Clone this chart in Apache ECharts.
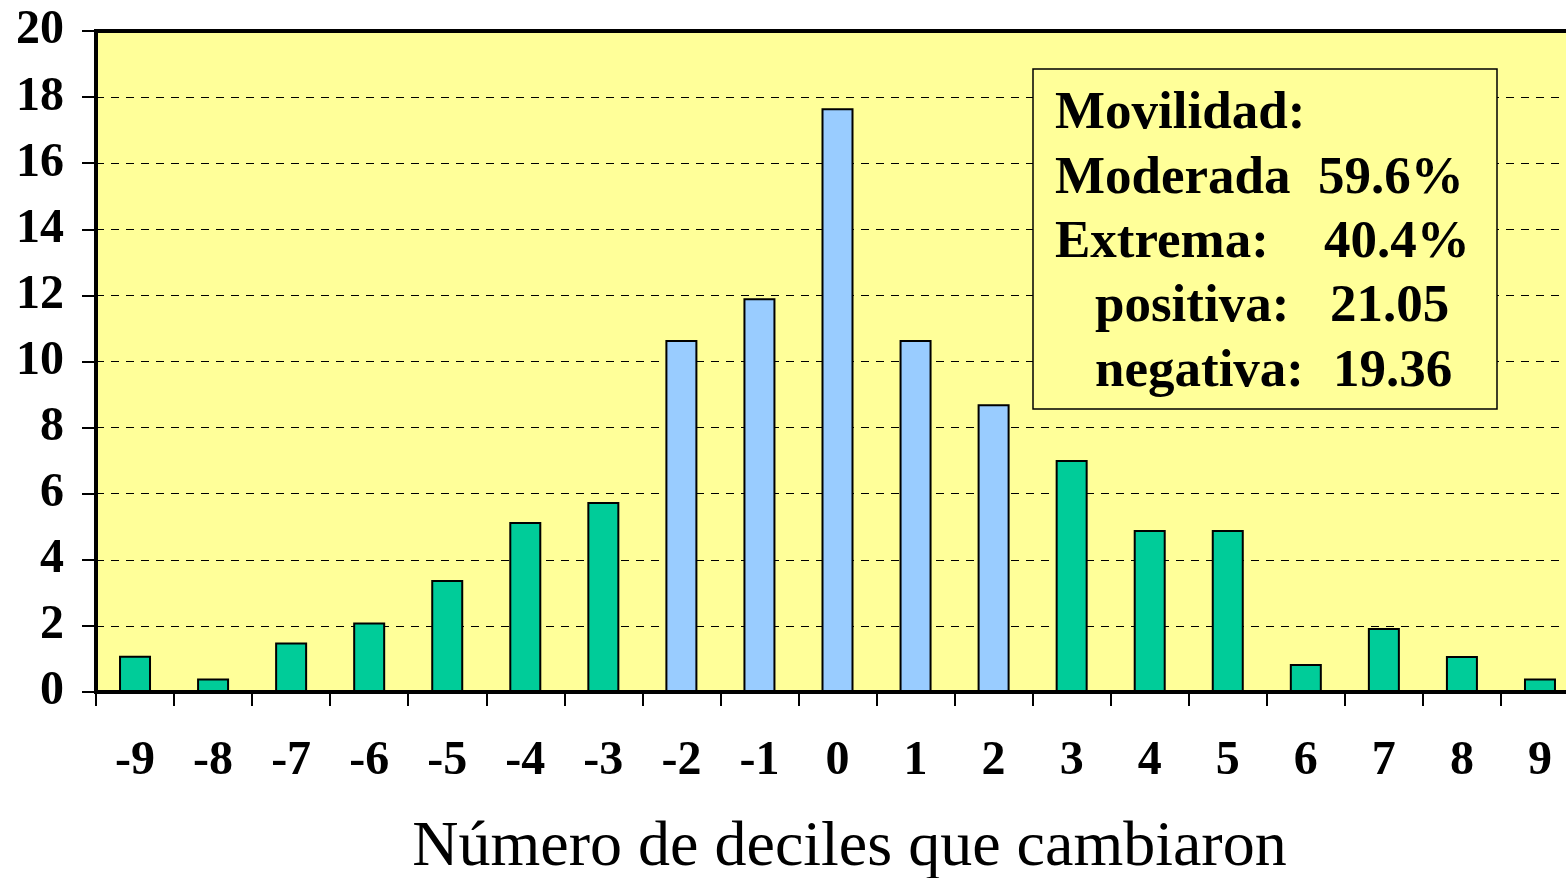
<!DOCTYPE html>
<html>
<head>
<meta charset="utf-8">
<script src="https://cdn.jsdelivr.net/npm/echarts@6/dist/echarts.min.js"></script>
<style>
  html, body { margin: 0; padding: 0; background: #fff; }
  #chartDeciles { width: 1566px; height: 878px; }
</style>
</head>
<body>
<div id="chartDeciles"></div>
<script>
var categories = ["-9", "-8", "-7", "-6", "-5", "-4", "-3", "-2", "-1", "0", "1", "2", "3", "4", "5", "6", "7", "8", "9"];
var values = [1.1, 0.41, 1.5, 2.1, 3.39, 5.14, 5.75, 10.65, 11.91, 17.66, 10.65, 8.71, 7.02, 4.9, 4.9, 0.85, 1.94, 1.09, 0.41];
var yTicks = { min: 0, max: 20, interval: 2 };
var boxLines = [
  ["Movilidad:", ""],
  ["Moderada", "59.6%"],
  ["Extrema:", "40.4%"],
  ["positiva:", "21.05"],
  ["negativa:", "19.36"]
];

var FONT = "'Liberation Serif', 'Times New Roman', serif";

function InitDeciles() {
  var myChart = echarts.init(document.getElementById("chartDeciles"));

  // moderada (|k| <= 2) en azul, extrema en verde
  var barData = values.map(function (v, i) {
    var moderate = Math.abs(Number(categories[i])) <= 2;
    return {
      value: v,
      itemStyle: { color: moderate ? "#99CCFF" : "#00CC99" },
    };
  });

  // cuadro de texto
  var boxX = [[1055, 1318], [1055, 1318], [1055, 1324], [1095, 1330], [1095, 1333]];
  var boxY = [114, 179, 243, 307, 372];
  var boxChildren = [
    {
      type: "rect",
      shape: { x: 1033, y: 69, width: 464, height: 340 },
      style: { fill: "#FFFF99", stroke: "#000", lineWidth: 1.5 },
      z: 10,
    },
  ];
  boxLines.forEach(function (line, i) {
    boxChildren.push({
      type: "text",
      x: boxX[i][0],
      y: boxY[i],
      style: { text: line[0], font: "bold 53px " + FONT, fill: "#000", textVerticalAlign: "middle" },
      z: 11,
    });
    if (line[1]) {
      boxChildren.push({
        type: "text",
        x: boxX[i][1],
        y: boxY[i],
        style: { text: line[1], font: "bold 53px " + FONT, fill: "#000", textVerticalAlign: "middle" },
        z: 11,
      });
    }
  });

  var option = {
    animation: false,
    grid: {
      left: 96,
      right: -13,
      top: 31,
      bottom: 186,
      outerBoundsMode: "none",
      containLabel: false,
      show: true,
      backgroundColor: "#FFFF99",
      borderColor: "#000",
      borderWidth: 4,
    },
    xAxis: {
      type: "category",
      data: categories,
      name: "Número de deciles que cambiaron",
      nameLocation: "middle",
      nameGap: 124,
      nameTextStyle: { fontFamily: FONT, fontSize: 64, color: "#000", padding: [0, 0, 0, 24] },
      axisLine: { lineStyle: { color: "#000", width: 4 } },
      axisTick: { show: true, alignWithLabel: false, length: 14, lineStyle: { color: "#000", width: 2 } },
      axisLabel: { margin: 46, fontFamily: FONT, fontWeight: "bold", fontSize: 48, color: "#000" },
    },
    yAxis: {
      type: "value",
      min: yTicks.min,
      max: yTicks.max,
      interval: yTicks.interval,
      axisLine: { show: true, lineStyle: { color: "#000", width: 4 } },
      axisTick: { show: true, length: 14, lineStyle: { color: "#000", width: 2 } },
      axisLabel: { margin: 32, fontFamily: FONT, fontWeight: "bold", fontSize: 48, color: "#000" },
      splitLine: { lineStyle: { color: "#000", width: 1, type: [8, 7] } },
    },
    series: [
      {
        type: "bar",
        data: barData,
        barWidth: 32,
        itemStyle: { borderColor: "#000", borderWidth: 2 },
      },
    ],
    graphic: [{ type: "group", children: boxChildren }],
  };
  myChart.setOption(option);
}

InitDeciles();
</script>
</body>
</html>
